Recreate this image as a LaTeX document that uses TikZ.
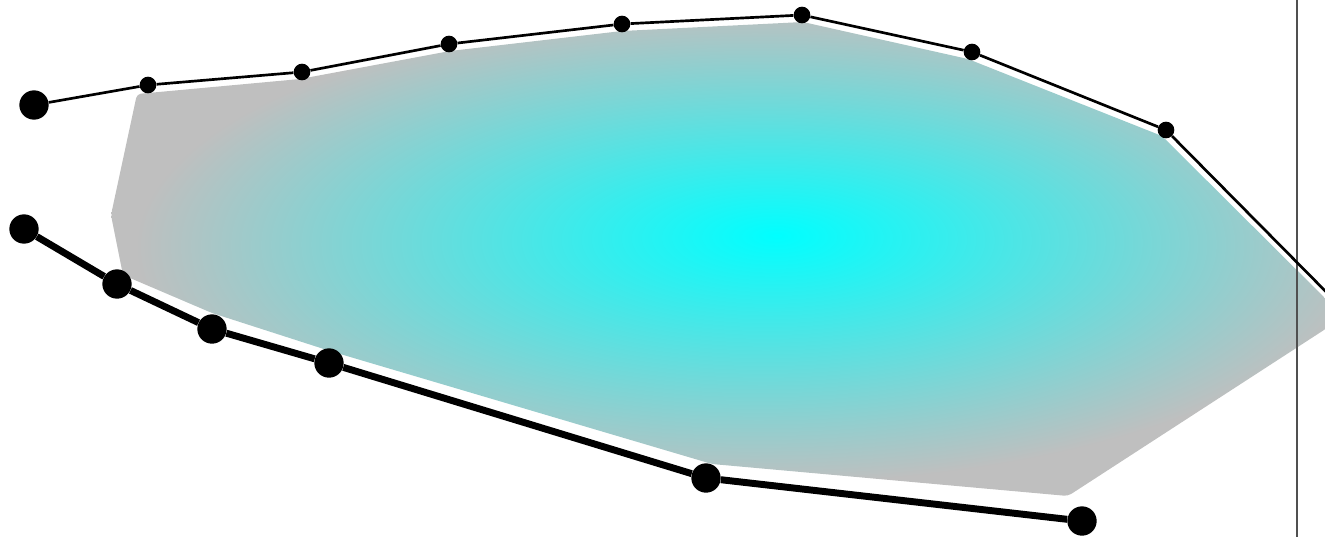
\documentclass[tikz,border=0pt]{standalone}
\usepackage{tikz}
\usetikzlibrary{positioning}
\definecolor{cyan500} {HTML}{00FFFF}
\definecolor{grey300} {HTML}{BFBFBF}
\definecolor{grey700} {HTML}{505050}
\pgfdeclareradialshading{blob}{\pgfpoint{2bp}{2.5bp}}{%
  color(0bp)=(cyan500); color(25bp)=(grey300); color(50bp)=(grey300)}
\tikzset{
  dotbig/.style  ={circle, fill=black, inner sep=0pt, minimum size=22pt},
  dotsmall/.style={circle, fill=black, inner sep=0pt, minimum size=12.5pt},
  upline/.style  ={draw=black, line width=2pt},
  lowline/.style ={draw=black, line width=5.2pt, line join=round},
  rule/.style    ={draw=grey700, line width=1.1pt},
  blobfill/.style={shading=blob, rounded corners=3pt}
}

\begin{document}
\begin{tikzpicture}[x=0.75pt,y=-0.75pt]
\useasboundingbox (0,0) rectangle (1325,537);
\clip (0,0) rectangle (1325,537);

% shaded region between the two chains
\shade[blobfill] (137,94) -- (300,79) -- (450,51) -- (622,31) -- (803,22)
  -- (968,59) -- (1162,136) -- (1344,317) -- (1068,496) -- (712,464)
  -- (330,351) -- (212,313) -- (123,275) -- (111,215) -- cycle;

% vertical rule
\coordinate (ruletop) at (1297,0);
\coordinate (rulebot) at (1297,537);
\draw[rule] (ruletop) -- (rulebot);

% upper chain
\node[dotbig]   (u0) at (34,105) {};
\node[dotsmall] (u1) at (148,85) {};
\node[dotsmall] (u2) at (302,72) {};
\node[dotsmall] (u3) at (449,44) {};
\node[dotsmall] (u4) at (622,24) {};
\node[dotsmall] (u5) at (802,15) {};
\node[dotsmall] (u6) at (972,52) {};
\node[dotsmall] (u7) at (1166,130) {};
\coordinate (uend) at (1350,316);

\draw[upline] (u0) -- (u1) -- (u2) -- (u3) -- (u4) -- (u5) -- (u6)
  -- (u7) -- (uend);

% lower chain
\node[dotbig] (l0) at (24,229) {};
\node[dotbig] (l1) at (117,284) {};
\node[dotbig] (l2) at (212,329) {};
\node[dotbig] (l3) at (329,363) {};
\node[dotbig] (l4) at (706,478) {};
\node[dotbig] (l5) at (1082,521) {};

\draw[lowline] (l0) -- (l1) -- (l2) -- (l3) -- (l4) -- (l5);
\end{tikzpicture}
\end{document}
